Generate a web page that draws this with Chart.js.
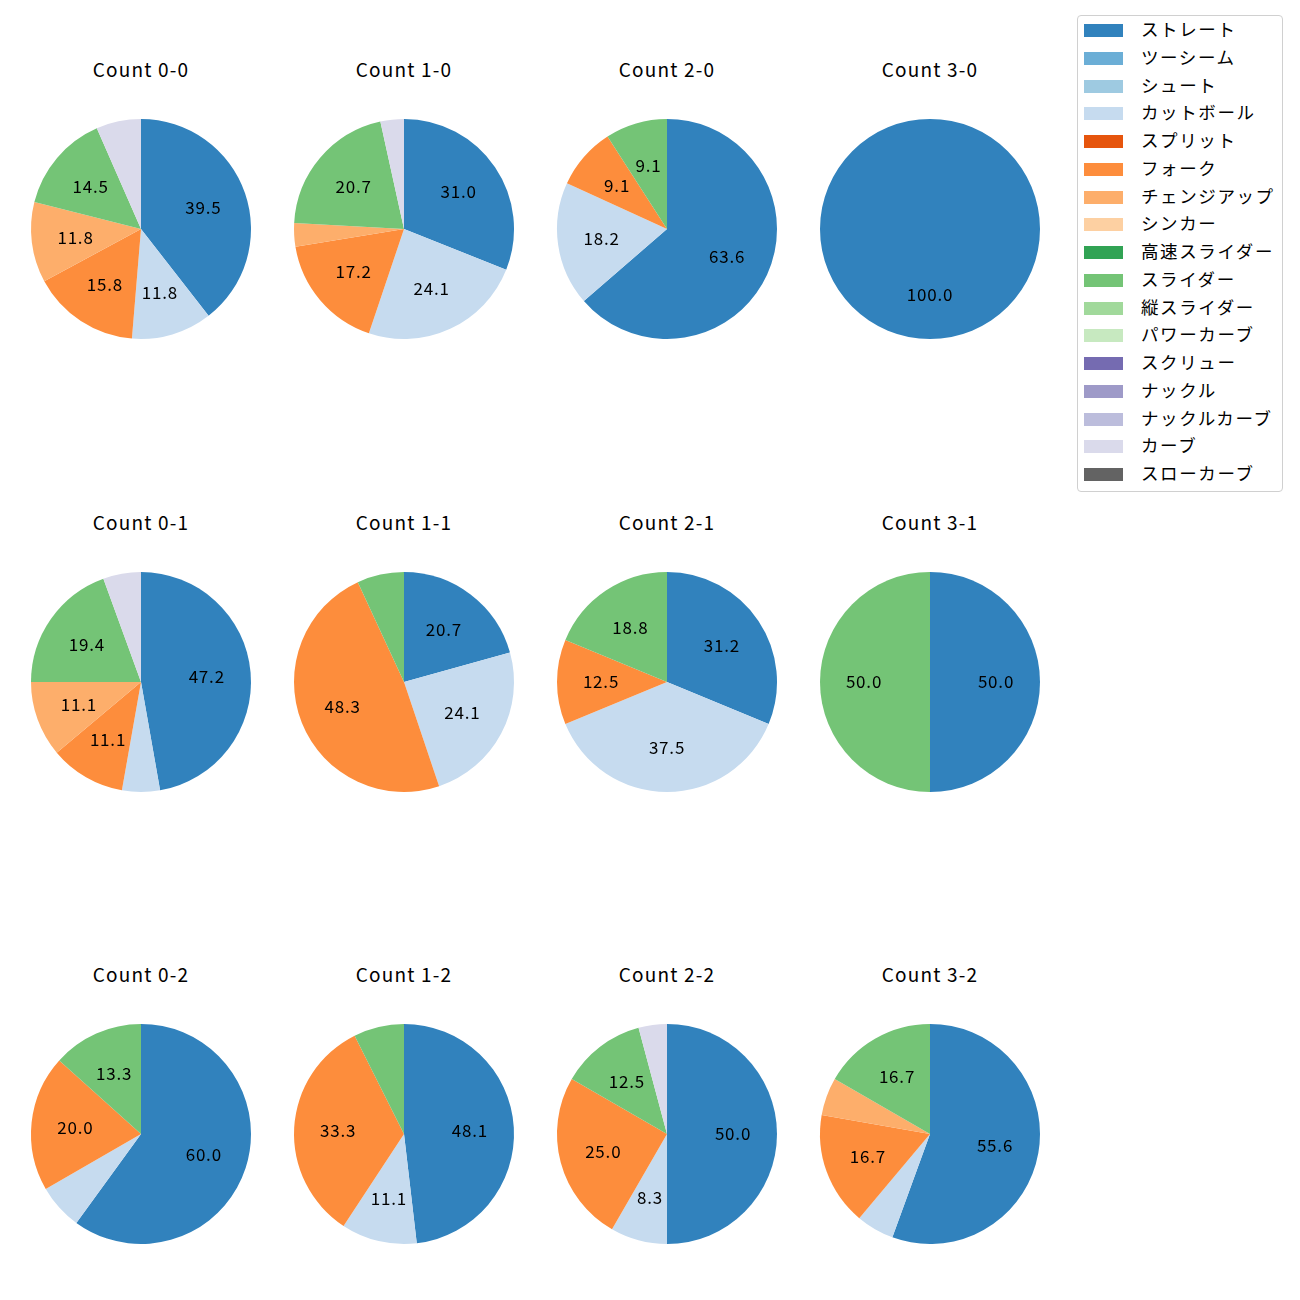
<!DOCTYPE html>
<html>
<head>
<meta charset="utf-8">
<script src="https://cdn.jsdelivr.net/npm/chart.js@4"></script>
<style>
  body { margin: 0; background: #fff; font-family: "Noto Sans CJK JP", "Noto Sans", sans-serif; }
  #wrap { position: relative; width: 1300px; height: 1300px; }
  .pie { position: absolute; }
  .title { position: absolute; width: 200px; text-align: center; font-size: 19px; color: #000; line-height: 1; letter-spacing: 1.2px; }
  #legend { position: absolute; left: 1077px; top: 15px; width: 204px; height: 475px; border: 1px solid #d0d0d0; border-radius: 4px; background: #fff; }
  .item { position: absolute; left: 6px; height: 20px; font-size: 17.5px; line-height: 20px; white-space: nowrap; }
  .sw { position: absolute; left: 0; top: 4px; width: 39px; height: 13px; }
  .lbl { position: absolute; left: 57px; top: -1px; letter-spacing: 1.6px; }
</style>
</head>
<body>
<div id="wrap">
  <div id="legend"></div>
</div>
<script>
const pitchTypes = ['ストレート', 'ツーシーム', 'シュート', 'カットボール', 'スプリット', 'フォーク', 'チェンジアップ', 'シンカー', '高速スライダー', 'スライダー', '縦スライダー', 'パワーカーブ', 'スクリュー', 'ナックル', 'ナックルカーブ', 'カーブ', 'スローカーブ'];
const pitchColors = ['#3182bd', '#6baed6', '#9ecae1', '#c6dbef', '#e6550d', '#fd8d3c', '#fdae6b', '#fdd0a2', '#31a354', '#74c476', '#a1d99b', '#c7e9c0', '#756bb1', '#9e9ac8', '#bcbddc', '#dadaeb', '#636363'];

const countLabels = ['Count 0-0', 'Count 1-0', 'Count 2-0', 'Count 3-0',
                     'Count 0-1', 'Count 1-1', 'Count 2-1', 'Count 3-1',
                     'Count 0-2', 'Count 1-2', 'Count 2-2', 'Count 3-2'];

// pitches thrown per type, same order as pitchTypes
const count00 = [30, 0, 0, 9, 0, 12, 9, 0, 0, 11, 0, 0, 0, 0, 0, 5, 0];
const count10 = [9, 0, 0, 7, 0, 5, 1, 0, 0, 6, 0, 0, 0, 0, 0, 1, 0];
const count20 = [7, 0, 0, 2, 0, 1, 0, 0, 0, 1, 0, 0, 0, 0, 0, 0, 0];
const count30 = [3, 0, 0, 0, 0, 0, 0, 0, 0, 0, 0, 0, 0, 0, 0, 0, 0];
const count01 = [17, 0, 0, 2, 0, 4, 4, 0, 0, 7, 0, 0, 0, 0, 0, 2, 0];
const count11 = [6, 0, 0, 7, 0, 14, 0, 0, 0, 2, 0, 0, 0, 0, 0, 0, 0];
const count21 = [5, 0, 0, 6, 0, 2, 0, 0, 0, 3, 0, 0, 0, 0, 0, 0, 0];
const count31 = [1, 0, 0, 0, 0, 0, 0, 0, 0, 1, 0, 0, 0, 0, 0, 0, 0];
const count02 = [9, 0, 0, 1, 0, 3, 0, 0, 0, 2, 0, 0, 0, 0, 0, 0, 0];
const count12 = [13, 0, 0, 3, 0, 9, 0, 0, 0, 2, 0, 0, 0, 0, 0, 0, 0];
const count22 = [12, 0, 0, 2, 0, 6, 0, 0, 0, 3, 0, 0, 0, 0, 0, 1, 0];
const count32 = [10, 0, 0, 1, 0, 3, 1, 0, 0, 3, 0, 0, 0, 0, 0, 0, 0];

const allCounts = [count00, count10, count20, count30, count01, count11, count21, count31, count02, count12, count22, count32];

const colX = [141, 404, 667, 930];
const rowY = [229, 682, 1134];
const radius = 110;
const pad = 10;

// one decimal, ties go to the even digit (31.25 -> 31.2)
function fmtPct(pct) {
    const x = pct * 10;
    const f = Math.floor(x);
    let n;
    if (Math.abs(x - f - 0.5) < 1e-9) {
        n = (f % 2 === 0) ? f : f + 1;
    } else {
        n = Math.round(x);
    }
    return (n / 10).toFixed(1);
}

// draws the share inside the slice, like autopct with pctdistance 0.6
const pctLabels = {
    id: 'pctLabels',
    afterDatasetsDraw(chart) {
        const ctx = chart.ctx;
        const meta = chart.getDatasetMeta(0);
        const values = chart.data.datasets[0].data;
        const total = values.reduce((a, b) => a + b, 0);
        ctx.save();
        ctx.font = '17px "Noto Sans CJK JP", "Noto Sans", sans-serif';
        ctx.letterSpacing = '0.8px';
        ctx.fillStyle = '#000';
        ctx.textAlign = 'center';
        ctx.textBaseline = 'middle';
        meta.data.forEach((arc, i) => {
            const pct = values[i] / total * 100;
            if (pct < 8) return;
            const p = arc.getProps(['x', 'y', 'startAngle', 'endAngle', 'outerRadius'], true);
            const mid = (p.startAngle + p.endAngle) / 2;
            const r = p.outerRadius * 0.6;
            ctx.fillText(fmtPct(pct), p.x + Math.cos(mid) * r, p.y + Math.sin(mid) * r);
        });
        ctx.restore();
    }
};

const wrap = document.getElementById('wrap');

allCounts.forEach((values, idx) => {
    const cx = colX[idx % 4];
    const cy = rowY[Math.floor(idx / 4)];
    const size = (radius + pad) * 2;

    const canvas = document.createElement('canvas');
    canvas.className = 'pie';
    canvas.width = size;
    canvas.height = size;
    canvas.style.left = (cx - size / 2) + 'px';
    canvas.style.top = (cy - size / 2) + 'px';
    canvas.style.width = size + 'px';
    canvas.style.height = size + 'px';
    wrap.appendChild(canvas);

    const title = document.createElement('div');
    title.className = 'title';
    title.textContent = countLabels[idx];
    title.style.left = (cx - 100) + 'px';
    title.style.top = (cy - 170) + 'px';
    wrap.appendChild(title);

    new Chart(canvas.getContext('2d'), {
        type: 'pie',
        data: {
            labels: pitchTypes,
            datasets: [{
                data: values,
                backgroundColor: pitchColors,
                borderWidth: 0
            }]
        },
        options: {
            responsive: false,
            animation: false,
            layout: { padding: pad },
            plugins: {
                legend: { display: false },
                tooltip: { enabled: false }
            }
        },
        plugins: [pctLabels]
    });
});

const legend = document.getElementById('legend');
pitchTypes.forEach((name, i) => {
    const item = document.createElement('div');
    item.className = 'item';
    item.style.top = (4 + i * 27.75) + 'px';
    item.innerHTML = '<span class="sw" style="background:' + pitchColors[i] + '"></span><span class="lbl">' + name + '</span>';
    legend.appendChild(item);
});
</script>
</body>
</html>
